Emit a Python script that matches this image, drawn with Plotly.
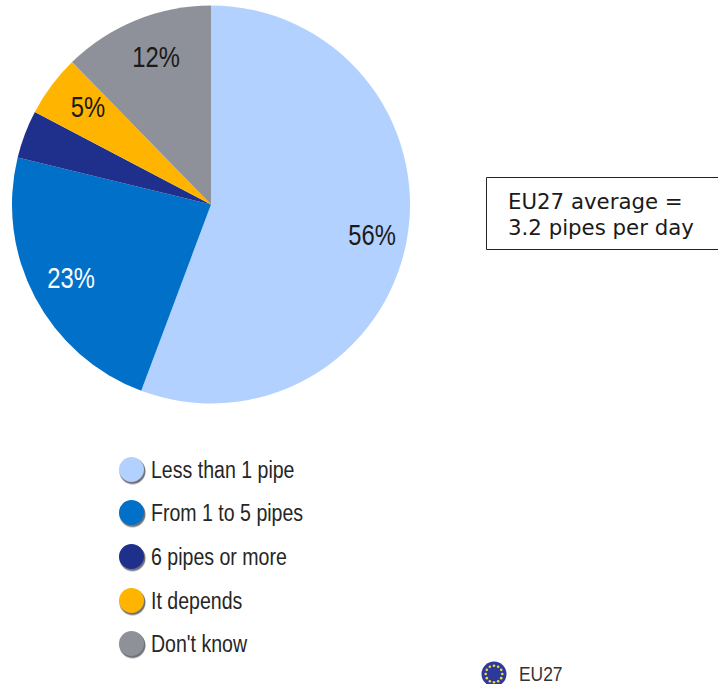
import math
import plotly.graph_objects as go

W, H = 718, 684
categories = ["Less than 1 pipe", "From 1 to 5 pipes", "6 pipes or more", "It depends", "Don't know"]
values = [55.7, 23.1, 3.9, 5.0, 12.3]
colors = ["#B3D1FF", "#0070C8", "#1F2F8C", "#FFB400", "#8E9199"]
label_colors = ["#1a1a1a", "#ffffff", None, "#1a1a1a", "#1a1a1a"]
label_pos = [(372, 235), (71, 278), None, (88, 107), (156, 57)]
legend_y = [470, 513, 557, 601, 644]
note_lines = ["EU27 average =", "3.2 pipes per day"]
flag_label = "EU27"

NARROW = "Liberation Sans"

fig = go.Figure()
fig.add_trace(go.Pie(
    labels=categories, values=values, sort=False, direction="clockwise", rotation=0,
    marker=dict(colors=colors, line=dict(width=0)), textinfo="none", hoverinfo="label+percent",
    showlegend=False,
    domain=dict(x=[12 / W, 410 / W], y=[1 - 404 / H, 1 - 5 / H]),
))

annotations = []
for v, c, p in zip(values, label_colors, label_pos):
    if p is None:
        continue
    annotations.append(dict(x=p[0] / W, y=1 - p[1] / H, xref="paper", yref="paper", text=f"{round(v)}%",
                            showarrow=False, xanchor="center", yanchor="middle",
                            font=dict(family=NARROW, size=29, color=c)))

shapes = []
def circle(cx, cy, r, fill):
    shapes.append(dict(type="circle", xref="x", yref="y", x0=cx - r, x1=cx + r, y0=cy - r, y1=cy + r,
                       fillcolor=fill, line=dict(width=0), layer="below"))

for cat, col, y in zip(categories, colors, legend_y):
    circle(132.5, y + 1.5, 13.2, "#C9CACD")
    circle(132.5, y + 1, 12.8, "#6F7278")
    circle(131.5, y - 0.5, 12.5, col)
    annotations.append(dict(x=149 / W, y=1 - y / H, xref="paper", yref="paper", text=cat, showarrow=False,
                            xanchor="left", yanchor="middle",
                            font=dict(family=NARROW, size=23, color="#262626")))

# note box
shapes.append(dict(type="rect", xref="x", yref="y", x0=486.5, x1=730, y0=177.5, y1=249.5,
                   line=dict(color="#222222", width=1), fillcolor="white"))
for line, y in zip(note_lines, [201, 227]):
    annotations.append(dict(x=505.5 / W, y=1 - y / H, xref="paper", yref="paper", text=line, showarrow=False,
                            xanchor="left", yanchor="middle",
                            font=dict(family="DejaVu Sans", size=21.3, color="#1a1a1a")))

# EU flag icon
circle(494, 674, 12.5, "#2B3A9B")
sx = [494 + 8.3 * math.cos(2 * math.pi * i / 12) for i in range(12)]
sy = [674 + 8.3 * math.sin(2 * math.pi * i / 12) for i in range(12)]
fig.add_trace(go.Scatter(x=sx, y=sy, mode="markers", showlegend=False, hoverinfo="skip",
                         marker=dict(symbol="circle", size=2.6, color="#F5D63A")))
annotations.append(dict(x=517 / W, y=1 - 674 / H, xref="paper", yref="paper", text=flag_label, showarrow=False,
                        xanchor="left", yanchor="middle", font=dict(family=NARROW, size=20, color="#333333")))

fig.update_layout(
    width=W, height=H, margin=dict(l=0, r=0, t=0, b=0), paper_bgcolor="white", plot_bgcolor="rgba(0,0,0,0)",
    xaxis=dict(range=[0, W], visible=False, fixedrange=True, domain=[0, 1]),
    yaxis=dict(range=[H, 0], visible=False, fixedrange=True, domain=[0, 1]),
    shapes=shapes, annotations=annotations, showlegend=False,
)

post = """
document.body.style.margin = '0';
document.documentElement.style.overflow = 'hidden';
var k = {'29': [0.82, false], '23': [0.85, true], '20': [0.87, true]};
document.querySelectorAll('.annotation-text').forEach(function (t) {
  var fs = parseFloat(t.style.fontSize);
  var e = k[String(fs)];
  if (!e) return;
  var b = t.getBBox();
  var w = t.getComputedTextLength();
  t.setAttribute('text-anchor', 'start');
  t.setAttribute('x', b.x + (e[1] ? 0 : w * (1 - e[0]) / 2));
  t.setAttribute('textLength', w * e[0]);
  t.setAttribute('lengthAdjust', 'spacingAndGlyphs');
});
"""
fig.write_html("out.html", config=dict(displayModeBar=False), post_script=post)
